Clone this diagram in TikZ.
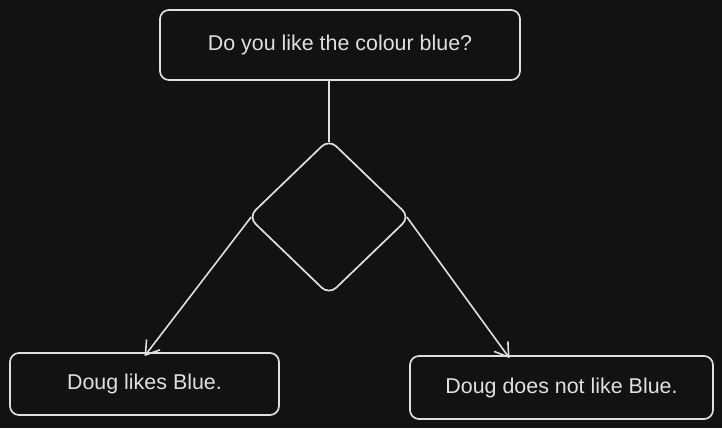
\documentclass[tikz,border=0pt]{standalone}
\usepackage{fontspec}
\setmainfont{Liberation Sans}
\usetikzlibrary{shapes.geometric,arrows.meta}
\definecolor{bg}{HTML}{121212}
\definecolor{ink}{HTML}{E0E0E0}
\begin{document}
\begin{tikzpicture}[x=1bp,y=-1bp,
  box/.style={draw=ink,line width=1.7bp,rounded corners=9bp,inner sep=0,text=ink,font=\fontsize{21.5}{24}\selectfont},
  dec/.style={draw=ink,line width=1.7bp,shape=diamond,rounded corners=10bp,minimum width=162bp,minimum height=156bp,inner sep=0},
  conn/.style={draw=ink,line width=1.6bp},
  arr/.style={conn,-{Straight Barb[length=13bp,width=17bp,line width=1.6bp]}}]
\fill[bg] (0,0) rectangle (722,428);
\useasboundingbox (0,0) rectangle (722,428);
\node[box,minimum width=360bp,minimum height=70bp] (top) at (340,45) {Do you like the colour blue?};
\node[dec] (dia) at (329,217) {};
\node[box,minimum width=269bp,minimum height=62bp] (lb) at (144.5,384) {Doug likes Blue.};
\node[box,minimum width=303bp,minimum height=63bp] (rb) at (561.5,387.5) {Doug does not like Blue.};
\draw[conn] (top.south -| dia.north) -- ([yshift=-4bp]dia.north);
\draw[arr] ([xshift=4bp]dia.west) -- ([yshift=-4bp]lb.north);
\draw[arr] ([xshift=-4bp]dia.east) -- ([xshift=-52bp,yshift=-3bp]rb.north);
\end{tikzpicture}
\end{document}
